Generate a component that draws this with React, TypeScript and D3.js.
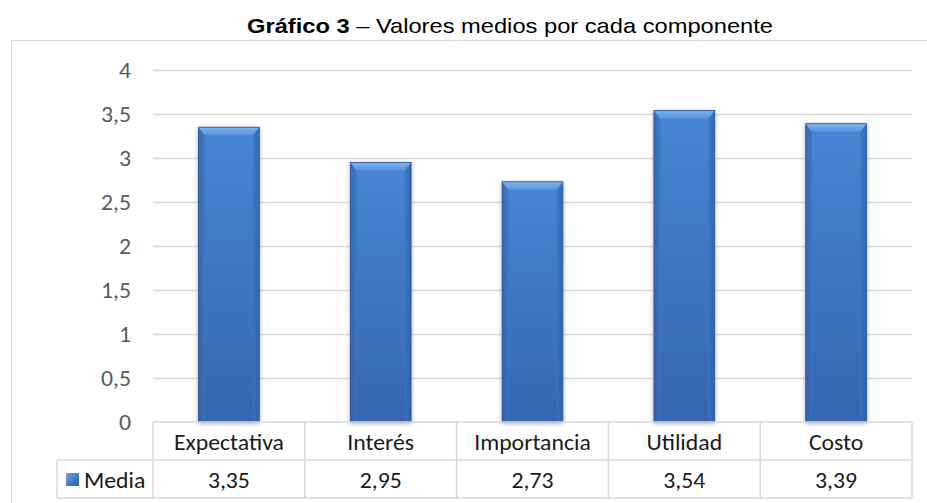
import React from "react";
import * as d3 from "d3";

const categories = ["Expectativa", "Interés", "Importancia", "Utilidad", "Costo"];
const values = [3.35, 2.95, 2.73, 3.54, 3.39];
const valueLabels = ["3,35", "2,95", "2,73", "3,54", "3,39"];
const yTicks = [0, 0.5, 1, 1.5, 2, 2.5, 3, 3.5, 4];
const seriesName = "Media";

const W = 927;
const H = 503;
const FONT = "Carlito, Calibri, 'Open Sans', sans-serif";
const SX = 1.08;

function T(props: { x: number; y: number; anchor?: string; fill?: string; children: React.ReactNode }) {
  return (
    <text
      transform={`translate(${props.x},${props.y}) scale(${SX},1)`}
      dy="0.35em"
      textAnchor={props.anchor || "middle"}
      fontFamily={FONT}
      fontSize={22}
      fill={props.fill || "#1a1a1a"}
    >
      {props.children}
    </text>
  );
}

export default function App() {
  const x = d3.scaleBand<string>().domain(categories).range([153, 912]).paddingInner(0).paddingOuter(0);
  const y = d3.scaleLinear().domain([0, 4]).range([422, 70]);
  const bw = x.bandwidth() * 0.4;
  const fmt = (v: number) => String(v).replace(".", ",");
  const rowTop = y(0);
  const rowMid = 460;
  const rowBot = 498;
  const bev = 8;
  const grid = "#d9d9d9";

  return (
    <svg width={W} height={H} style={{ position: "absolute", left: 0, top: 0 }}>
      <defs>
        <linearGradient id="face" x1="0" y1="0" x2="0" y2="1">
          <stop offset="0" stopColor="#4787d6" />
          <stop offset="1" stopColor="#3566ae" />
        </linearGradient>
        <linearGradient id="side" x1="0" y1="0" x2="1" y2="0">
          <stop offset="0" stopColor="#2d5fa3" />
          <stop offset="1" stopColor="#3b74c0" />
        </linearGradient>
        <linearGradient id="side2" x1="0" y1="0" x2="1" y2="0">
          <stop offset="0" stopColor="#3b74c0" />
          <stop offset="1" stopColor="#2d5fa3" />
        </linearGradient>
        <linearGradient id="topg" x1="0" y1="0" x2="0" y2="1">
          <stop offset="0" stopColor="#7fb3ee" />
          <stop offset="1" stopColor="#5694dd" />
        </linearGradient>
        <linearGradient id="leg" x1="0" y1="0" x2="1" y2="1">
          <stop offset="0" stopColor="#6ba3e6" />
          <stop offset="1" stopColor="#2c5d9f" />
        </linearGradient>
        <filter id="sh" x="-20%" y="-5%" width="140%" height="110%">
          <feGaussianBlur in="SourceAlpha" stdDeviation="2" />
          <feOffset dx="0" dy="1" result="b" />
          <feComponentTransfer><feFuncA type="linear" slope="0.35" /></feComponentTransfer>
          <feMerge><feMergeNode /><feMergeNode in="SourceGraphic" /></feMerge>
        </filter>
      </defs>
      <rect x={0} y={0} width={W} height={H} fill="#fff" />
      <text transform="translate(247,33) scale(1.185,1)" fontFamily="'Liberation Sans', Arial, sans-serif" fontSize={20} fill="#000">
        <tspan fontWeight="bold">Gráfico 3</tspan>
        <tspan> – Valores medios por cada componente</tspan>
      </text>
      <rect x={11.5} y={40.5} width={W + 10} height={H + 10} fill="none" stroke={grid} strokeWidth={1.2} />
      {yTicks.map((t) => (
        <g key={t}>
          {t > 0 && <line x1={153} x2={912} y1={Math.round(y(t)) + 0.5} y2={Math.round(y(t)) + 0.5} stroke={grid} strokeWidth={1.5} />}
          <T x={131} y={y(t)} anchor="end" fill="#595959">{fmt(t)}</T>
        </g>
      ))}
      {categories.map((c, i) => {
        const x0 = (x(c) as number) + (x.bandwidth() - bw) / 2;
        const x1 = x0 + bw;
        const yt = y(values[i]);
        const yb = y(0);
        return (
          <g key={c} filter="url(#sh)">
            <rect x={x0} y={yt} width={bw} height={yb - yt} fill="url(#face)" />
            <polygon points={`${x0},${yt} ${x0 + bev * 0.8},${yt + bev} ${x0 + bev * 0.8},${yb} ${x0},${yb}`} fill="url(#side)" opacity={0.7} />
            <polygon points={`${x1},${yt} ${x1 - bev * 0.8},${yt + bev} ${x1 - bev * 0.8},${yb} ${x1},${yb}`} fill="url(#side2)" opacity={0.7} />
            <polygon points={`${x0},${yt} ${x1},${yt} ${x1 - bev * 0.8},${yt + bev} ${x0 + bev * 0.8},${yt + bev}`} fill="url(#topg)" />
            <rect x={x0} y={yt} width={bw} height={yb - yt} fill="none" stroke="#2b5797" strokeWidth={0.8} />
          </g>
        );
      })}
      <g stroke={grid} strokeWidth={1.5} fill="none">
        <line x1={153} x2={912} y1={rowTop} y2={rowTop} />
        <line x1={57} x2={912} y1={rowMid} y2={rowMid} />
        <line x1={57} x2={912} y1={rowBot} y2={rowBot} />
        <line x1={57} x2={57} y1={rowMid} y2={rowBot} />
        {categories.map((c) => (
          <line key={c} x1={x(c) as number} x2={x(c) as number} y1={rowTop} y2={rowBot} />
        ))}
        <line x1={912} x2={912} y1={rowTop} y2={rowBot} />
      </g>
      {categories.map((c, i) => (
        <g key={c}>
          <T x={(x(c) as number) + x.bandwidth() / 2} y={(rowTop + rowMid) / 2 + 1}>{c}</T>
          <T x={(x(c) as number) + x.bandwidth() / 2} y={(rowMid + rowBot) / 2 + 1}>{valueLabels[i]}</T>
        </g>
      ))}
      <rect x={66} y={473} width={13} height={13} fill="url(#leg)" />
      <T x={84} y={(rowMid + rowBot) / 2 + 1} anchor="start">{seriesName}</T>
    </svg>
  );
}
